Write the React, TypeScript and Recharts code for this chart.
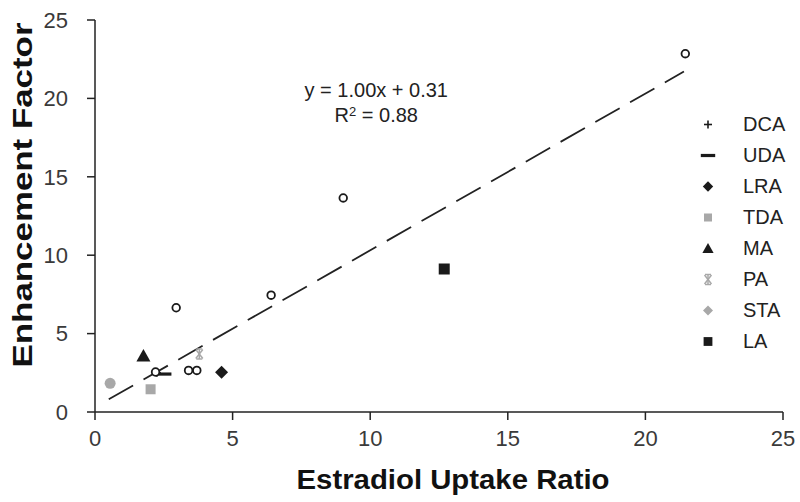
import React from 'react';
import { ScatterChart, Scatter, XAxis, YAxis, ReferenceLine, ReferenceDot, Legend } from 'recharts';

// ---------- data ----------
const axisTicks = [0, 5, 10, 15, 20, 25];
const unlabeledPoints = [
  { x: 21.45, y: 22.85 },
  { x: 9.02, y: 13.65 },
  { x: 6.4, y: 7.45 },
  { x: 2.95, y: 6.65 },
  { x: 3.4, y: 2.65 },
  { x: 3.7, y: 2.65 },
  { x: 2.2, y: 2.55 },
];
const dcaPoints = [{ x: 2.25, y: 2.5 }];
const udaPoints = [{ x: 2.45, y: 2.42 }];
const lraPoints = [{ x: 4.6, y: 2.53 }];
const tdaPoints = [{ x: 2.02, y: 1.45 }];
const maPoints = [{ x: 1.76, y: 3.57 }];
const paPoints = [{ x: 3.79, y: 3.7 }];
const staPoints = [{ x: 0.55, y: 1.83 }];
const laPoints = [{ x: 12.69, y: 9.12 }];
const trendStart = { x: 0.5, y: 0.81 };
const trendEnd = { x: 21.4, y: 21.71 };
const equationText = 'y = 1.00x + 0.31';
const r2Text = ' = 0.88';

const FONT = '"Liberation Sans", Arial, sans-serif';
const GREY = '#a8a8a8';
const DARK = '#1a1a1a';

// ---------- marker shapes ----------
type ShapeKind = 'open' | 'plus' | 'dash' | 'diamond' | 'square' | 'triangle' | 'star' | 'circle' | 'bsquare';

function Marker({ kind, cx, cy, legend }: { kind: ShapeKind; cx: number; cy: number; legend?: boolean }) {
  const k = legend ? 0.8 : 1;
  switch (kind) {
    case 'open':
      return <circle cx={cx} cy={cy} r={3.8} fill="#fff" stroke={DARK} strokeWidth={1.8} />;
    case 'plus':
      return (
        <g stroke={DARK} strokeWidth={1.6}>
          <line x1={cx - 4} y1={cy} x2={cx + 4} y2={cy} />
          <line x1={cx} y1={cy - 4} x2={cx} y2={cy + 4} />
        </g>
      );
    case 'dash':
      return <rect x={cx - 9 * k} y={cy - 1.6} width={18 * k} height={3.2} fill={DARK} />;
    case 'diamond': {
      const s = 6.5 * k;
      return <path d={`M${cx},${cy - s}L${cx + s},${cy}L${cx},${cy + s}L${cx - s},${cy}Z`} fill={DARK} />;
    }
    case 'square': {
      const s = 5 * k;
      return <rect x={cx - s} y={cy - s} width={2 * s} height={2 * s} fill={GREY} />;
    }
    case 'bsquare': {
      const s = 5.5 * k;
      return <rect x={cx - s} y={cy - s} width={2 * s} height={2 * s} fill={DARK} />;
    }
    case 'triangle': {
      const s = 7 * k;
      return <path d={`M${cx},${cy - s}L${cx + s},${cy + s * 0.8}L${cx - s},${cy + s * 0.8}Z`} fill={DARK} />;
    }
    case 'star':
      return (
        <g stroke={GREY} strokeWidth={1.5}>
          <line x1={cx - 3.5} y1={cy - 4.5} x2={cx + 3.5} y2={cy + 4.5} />
          <line x1={cx + 3.5} y1={cy - 4.5} x2={cx - 3.5} y2={cy + 4.5} />
          <line x1={cx} y1={cy - 5} x2={cx} y2={cy + 5} />
          <line x1={cx - 3} y1={cy - 5} x2={cx + 3} y2={cy - 5} />
          <line x1={cx - 3} y1={cy + 5} x2={cx + 3} y2={cy + 5} />
        </g>
      );
    case 'circle':
      if (legend) {
        const s = 5;
        return <path d={`M${cx},${cy - s}L${cx + s},${cy}L${cx},${cy + s}L${cx - s},${cy}Z`} fill={GREY} />;
      }
      return <circle cx={cx} cy={cy} r={5.5} fill={GREY} />;
    default:
      return null;
  }
}

const seriesDefs: { name: string; data: { x: number; y: number }[]; kind: ShapeKind }[] = [
  { name: 'DCA', data: dcaPoints, kind: 'plus' },
  { name: 'UDA', data: udaPoints, kind: 'dash' },
  { name: 'LRA', data: lraPoints, kind: 'diamond' },
  { name: 'TDA', data: tdaPoints, kind: 'square' },
  { name: 'MA', data: maPoints, kind: 'triangle' },
  { name: 'PA', data: paPoints, kind: 'star' },
  { name: 'STA', data: staPoints, kind: 'circle' },
  { name: 'LA', data: laPoints, kind: 'bsquare' },
];

const kindByName: Record<string, ShapeKind> = {};
const orderByName: Record<string, number> = {};
seriesDefs.forEach((s, i) => {
  kindByName[s.name] = s.kind;
  orderByName[s.name] = i;
});

function LegendContent(props: any) {
  const payload = (props.payload || [])
    .filter((p: any) => kindByName[p.value])
    .slice()
    .sort((a: any, b: any) => orderByName[a.value] - orderByName[b.value]);
  return (
    <div style={{ fontFamily: FONT }}>
      {payload.map((p: any) => (
        <div key={p.value} style={{ height: 31, display: 'flex', alignItems: 'center' }}>
          <svg width={30} height={31} style={{ display: 'block' }}>
            <Marker kind={kindByName[p.value]} cx={13} cy={15.5} legend />
          </svg>
          <span style={{ marginLeft: 18, fontSize: 20, color: '#222', lineHeight: '31px' }}>{p.value}</span>
        </div>
      ))}
    </div>
  );
}

function XTitle(props: any) {
  const vb = props.viewBox || {};
  const cx = vb.x + vb.width / 2 + 14;
  return (
    <text x={cx} y={489} textAnchor="middle" fontFamily={FONT} fontWeight="bold" fontSize={28} fill="#111"
      textLength={313} lengthAdjust="spacingAndGlyphs">
      Estradiol Uptake Ratio
    </text>
  );
}

function YTitle(props: any) {
  const vb = props.viewBox || {};
  const cy = vb.y + vb.height / 2 - 21;
  const x = 32;
  return (
    <text x={x} y={cy} transform={`rotate(-90 ${x} ${cy})`} textAnchor="middle" fontFamily={FONT} fontWeight="bold"
      fontSize={28} fill="#111" textLength={345} lengthAdjust="spacingAndGlyphs">
      Enhancement Factor
    </text>
  );
}

function EquationLabel(props: any) {
  const vb = props.viewBox || {};
  const cx = vb.x + (vb.width || 0) / 2;
  const cy = vb.y + (vb.height || 0) / 2;
  return (
    <g fontFamily={FONT} fill="#222" fontSize={20}>
      <text x={cx} y={cy + 6} textAnchor="middle">{equationText}</text>
      <text x={cx} y={cy + 31} textAnchor="middle">
        <tspan>R</tspan>
        <tspan dy={-6} fontSize={13}>2</tspan>
        <tspan dy={6}>{r2Text}</tspan>
      </text>
    </g>
  );
}

const tickStyle = { fontFamily: FONT, fontSize: 22, fill: '#3a3a3a' };

export default function App() {
  return (
    <div style={{ position: 'absolute', left: 0, top: 0, width: 800, height: 502, background: '#fff' }}>
      <ScatterChart width={800} height={502} margin={{ top: 20, right: 17, bottom: 30, left: 35 }}>
        <XAxis
          type="number"
          dataKey="x"
          domain={[0, 25]}
          ticks={axisTicks}
          interval={0}
          height={60}
          tickSize={8}
          tickMargin={10}
          tick={tickStyle}
          axisLine={{ stroke: '#222', strokeWidth: 1.5 }}
          tickLine={{ stroke: '#222', strokeWidth: 1.5 }}
          label={<XTitle />}
        />
        <YAxis
          type="number"
          dataKey="y"
          domain={[0, 25]}
          ticks={axisTicks}
          interval={0}
          width={60}
          tickSize={8}
          tickMargin={19}
          tick={tickStyle}
          axisLine={{ stroke: '#222', strokeWidth: 1.5 }}
          tickLine={{ stroke: '#222', strokeWidth: 1.5 }}
          label={<YTitle />}
        />
        <ReferenceLine
          segment={[trendStart, trendEnd]}
          stroke="#222"
          strokeWidth={1.8}
          strokeDasharray="28 12"
          ifOverflow="extendDomain"
        />
        <ReferenceDot x={10.22} y={20.5} r={0} fill="none" stroke="none" label={<EquationLabel />} />
        {seriesDefs.map((s) => (
          <Scatter
            key={s.name}
            name={s.name}
            data={s.data}
            isAnimationActive={false}
            shape={(p: any) => <Marker kind={s.kind} cx={p.cx} cy={p.cy} />}
          />
        ))}
        <Scatter
          name="all"
          data={unlabeledPoints}
          legendType="none"
          isAnimationActive={false}
          shape={(p: any) => <Marker kind="open" cx={p.cx} cy={p.cy} />}
        />
        <Legend
          layout="vertical"
          align="center"
          verticalAlign="middle"
          content={<LegendContent />}
          wrapperStyle={{ position: 'absolute', left: 695, top: 109, width: 100 }}
        />
      </ScatterChart>
    </div>
  );
}
